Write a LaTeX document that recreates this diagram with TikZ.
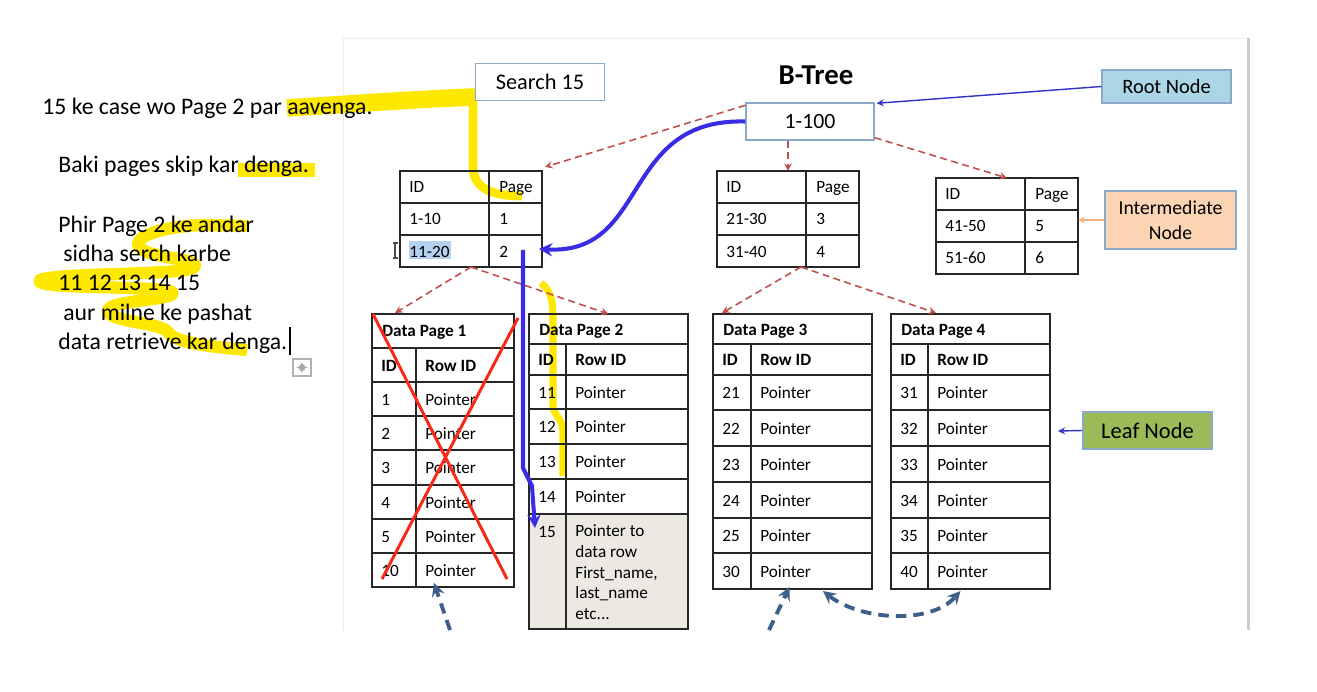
\documentclass[tikz,border=0pt]{standalone}
\usepackage{fontspec}
\setmainfont{Carlito}
\usetikzlibrary{calc}

\definecolor{hiliteyellow}{RGB}{255,232,0}
\definecolor{hitblue}{RGB}{58,44,230}
\definecolor{linkblue}{RGB}{50,50,200}
\definecolor{treered}{RGB}{192,80,77}
\definecolor{navydash}{RGB}{62,94,140}
\definecolor{boxedge}{RGB}{140,168,200}
\definecolor{rootfill}{RGB}{172,214,230}
\definecolor{interfill}{RGB}{251,212,180}
\definecolor{leaffill}{RGB}{155,187,89}
\definecolor{rowfill}{RGB}{236,233,226}
\definecolor{selblue}{RGB}{178,210,240}
\definecolor{crossred}{RGB}{250,40,25}
\definecolor{peach}{RGB}{244,177,131}

\newcommand{\pxu}{0.02cm}
\newcommand{\tabfont}{\fontsize{9.8pt}{11.9pt}\selectfont}
\newcommand{\notefont}{\fontsize{13.5pt}{16pt}\selectfont}

% index table: name, x, y, id 1, page 1, id 2, page 2
\newcommand{\idxtable}[7]{%
  \node[tbl, anchor=north west, inner sep=0pt, outer sep=0pt, minimum width=142*\pxu, minimum height=96*\pxu] (#1) at (#2,#3) {};
  \draw[tbl] (#2,#3+32) -- ++(142,0) (#2,#3+64) -- ++(142,0) (#2+89,#3) -- ++(0,96);
  \node[cell] (#1-h1) at (#2+9,#3+22) {ID};
  \node[cell] (#1-h2) at (#2+99,#3+22) {Page};
  \node[cell] (#1-a1) at (#2+9,#3+54) {#4};
  \node[cell] (#1-a2) at (#2+99,#3+54) {#5};
  \node[cell] (#1-b1) at (#2+9,#3+86) {#6};
  \node[cell] (#1-b2) at (#2+99,#3+86) {#7};
}

% data page: name, x, y, width, height, split x, head bottom, id row bottom, title
\newcommand{\datapage}[9]{%
  \node[tbl, anchor=north west, inner sep=0pt, outer sep=0pt, minimum width=#4*\pxu, minimum height=#5*\pxu] (#1) at (#2,#3) {};
  \draw[tbl] (#2,#7) -- ++(#4,0) (#2,#8) -- ++(#4,0) (#6,#7) -- (#6,#3+#5);
  \node[bcell] (#1-title) at (#2+10,{(#3+#7)/2+6}) {#9};
  \node[bcell] (#1-id) at (#2+9,{(#7+#8)/2+6}) {ID};
  \node[bcell] (#1-rowid) at (#6+9,{(#7+#8)/2+6}) {Row ID};
}

\begin{document}
\begin{tikzpicture}[x=0.02cm, y=-0.02cm, >=stealth,
  tbl/.style={draw=black!85, line width=0.8pt},
  cell/.style={anchor=base west, inner sep=0pt, font=\tabfont},
  bcell/.style={cell, font=\tabfont\bfseries},
  note/.style={anchor=base west, inner sep=0pt, font=\notefont},
  label box/.style={draw=boxedge, line width=0.8pt, inner sep=0pt},
  hilite/.style={draw=hiliteyellow, line cap=butt, line join=round},
  tree link/.style={->, draw=treered, line width=0.9pt, dash pattern=on 4pt off 2.5pt},
  hit path/.style={->, draw=hitblue, line width=2.3pt},
  back link/.style={->, draw=navydash, line width=2.2pt, dash pattern=on 6pt off 4pt},
  side link/.style={->, line width=0.8pt}]

\useasboundingbox (0,0) rectangle (1317,692);
\fill[white] (0,0) rectangle (1317,692);

% slide frame
\draw[black!8, line width=0.5pt] (343,630) -- (343,38) -- (1246,38);
\fill[black!20] (1247,38) rectangle (1250,630);

% highlighter strokes
\draw[hilite, line width=10pt] (287,108) .. controls (380,102) and (440,98) .. (476,97);
\draw[hilite, line width=5pt] (473,93) -- (473,168) .. controls (474,190) and (495,196) .. (522,196);
\draw[hilite, line width=8.5pt] (238,170) -- (315,170);
\draw[hilite, line width=7pt] (248,226) -- (205,225) .. controls (160,226) and (130,238) .. (140,248)
  .. controls (150,258) and (195,258) .. (195,266) .. controls (195,276) and (60,272) .. (40,280)
  .. controls (30,290) and (160,285) .. (172,292) .. controls (180,300) and (110,300) .. (108,310)
  .. controls (106,322) and (160,322) .. (168,332) .. controls (175,345) and (230,348) .. (247,350);
\draw[hilite, line width=4pt] (541,283) .. controls (549,289) and (553,298) .. (553,315) -- (553,405)
  .. controls (553,416) and (563,418) .. (563,432) -- (563,476);

% notes on the left
\node[note] (l1) at (42,115) {15 ke case wo Page 2 par aavenga.};
\node[note] (l2) at (58,173) {Baki pages skip kar denga.};
\node[note] (l3) at (58,233) {Phir Page 2 ke andar};
\node[note] (l4) at (63,262) {sidha serch karbe};
\node[note] (l5) at (58,291) {11 12 13 14 15};
\node[note] (l6) at (63,320) {aur milne ke pashat};
\node[note] (l7) at (58,349) {data retrieve kar denga.};
\draw[line width=1.1pt] (290,327) -- (290,355);

% move handle
\draw[black!30, line width=0.6pt] (293,359) rectangle (311,376);
\draw[black!35, line width=0.6pt, <->, >=latex] (296,367.5) -- (308,367.5);
\draw[black!35, line width=0.6pt, <->, >=latex] (302,361.5) -- (302,373.5);

% top of the tree
\node[label box, fill=white, minimum width=129*\pxu, minimum height=37*\pxu, font=\fontsize{12.7pt}{15pt}\selectfont] (search) at (540,82) {Search 15};
\node[font=\fontsize{16.4pt}{19pt}\selectfont\bfseries] (btree) at (816,75) {B-Tree};
\node[label box, minimum width=128*\pxu, minimum height=37*\pxu, font=\fontsize{12.4pt}{15pt}\selectfont] (r100) at (810,121.5) {1-100};

% side labels
\node[label box, fill=rootfill, minimum width=129*\pxu, minimum height=33*\pxu, font=\fontsize{11.6pt}{14pt}\selectfont] (root) at (1166.5,86.5) {Root Node};
\node[label box, fill=interfill, minimum width=131*\pxu, minimum height=58*\pxu, align=center, font=\fontsize{11.2pt}{14pt}\selectfont] (inter) at (1170.5,220) {Intermediate\\Node};
\node[label box, fill=leaffill, minimum width=129*\pxu, minimum height=37*\pxu, font=\fontsize{12.8pt}{15pt}\selectfont] (leaf) at (1147.5,430.5) {Leaf Node};

% intermediate pages
\fill[selblue] (409,241) rectangle (451,259);
\idxtable{t1}{400}{171}{1-10}{1}{11-20}{2}
\idxtable{t2}{717}{171}{21-30}{3}{31-40}{4}
\idxtable{t3}{936}{178}{41-50}{5}{51-60}{6}
\draw[black!70, line width=0.6pt] (395,243) -- (395,258) (392.5,243) -- (397.5,243) (392.5,258) -- (397.5,258);

% data pages
\datapage{dp1}{372}{314}{142}{273}{416}{348}{382}{Data Page 1}
\foreach \id/\ya/\yb in {1/382/416, 2/416/450, 3/450/485, 4/485/519, 5/519/553, 10/553/587}{
  \draw[tbl] (372,\ya) -- ++(142,0);
  \node[cell] (dp1-\id) at (381,{(\ya+\yb)/2+6}) {\id};
  \node[cell] (dp1-p\id) at (425,{(\ya+\yb)/2+6}) {Pointer};
}

\fill[rowfill] (529,514) rectangle (688,629);
\datapage{dp2}{529}{314}{159}{315}{566}{344}{375}{Data Page 2}
\foreach \id/\ya/\yb in {11/375/409, 12/409/444, 13/444/479, 14/479/514}{
  \draw[tbl] (529,\ya) -- ++(159,0);
  \node[cell] (dp2-\id) at (538,{(\ya+\yb)/2+6}) {\id};
  \node[cell] (dp2-p\id) at (575,{(\ya+\yb)/2+6}) {Pointer};
}
\draw[tbl] (529,514) -- ++(159,0);
\node[cell] (dp2-15) at (538,537) {15};
\node[cell, anchor=north west, align=left] (dp2-p15) at (575,524) {Pointer to\\data row\\First\_name,\\last\_name\\etc...};

\datapage{dp3}{713}{314}{159}{275}{751}{344}{375}{Data Page 3}
\foreach \id/\ya/\yb in {21/375/410, 22/410/446, 23/446/482, 24/482/518, 25/518/553, 30/553/589}{
  \draw[tbl] (713,\ya) -- ++(159,0);
  \node[cell] (dp3-\id) at (722,{(\ya+\yb)/2+6}) {\id};
  \node[cell] (dp3-p\id) at (760,{(\ya+\yb)/2+6}) {Pointer};
}

\datapage{dp4}{891}{314}{159}{275}{928}{344}{375}{Data Page 4}
\foreach \id/\ya/\yb in {31/375/410, 32/410/446, 33/446/482, 34/482/518, 35/518/553, 40/553/589}{
  \draw[tbl] (891,\ya) -- ++(159,0);
  \node[cell] (dp4-\id) at (900,{(\ya+\yb)/2+6}) {\id};
  \node[cell] (dp4-p\id) at (937,{(\ya+\yb)/2+6}) {Pointer};
}

% tree links
\draw[tree link] ($(r100.north west)+(0,3)$) -- ($(t1.north east)+(3,-4)$);
\draw[tree link] (r100.south -| t2.north) -- (t2.north);
\draw[tree link] ($(r100.south east)+(0,-3)$) -- (t3.north);
\draw[tree link] (t1.south) -- ($(dp1.north west)+(23,-1)$);
\draw[tree link] (t1.south) -- (dp2.north);
\draw[tree link] ($(t2.south)+(13,0)$) -- ($(dp3.north west)+(9,-1)$);
\draw[tree link] ($(t2.south)+(13,0)$) -- ($(dp4.north west)+(45,-1)$);

% label links
\draw[side link, draw=linkblue] (root.west) -- ($(r100.north east)+(2,1)$);
\draw[side link, draw=peach] (inter.west) -- (inter.west -| t3.east);
\coordinate (leafpt) at (1058,431);
\draw[side link, draw=linkblue] (leaf.west) -- (leafpt);

% skipped page
\draw[crossred, line width=1.7pt] (373,314) -- (507,579) (518,318) -- (382,579);

% search path
\coordinate (hitA) at (539,249);
\coordinate (hitB) at (523,250);
\coordinate (hitC) at (535,528);
\draw[hit path] (r100.west) .. controls (620,118) and (650,255) .. (hitA);
\draw[hit path] (hitB) -- (523,468) -- (532,486) -- (hitC);

% leaf chain
\coordinate (back1) at (450,630);
\coordinate (back2) at (769,630);
\draw[back link] (back1) -- ($(dp1.south)+(-9,-4)$);
\draw[back link] (back2) -- ($(dp3.south)+(-3,-2)$);
\draw[back link, <->] ($(dp3.south east)+(-49,2)$) .. controls (860,620) and (930,625) .. ($(dp4.south)+(-10,2)$);

\end{tikzpicture}
\end{document}
